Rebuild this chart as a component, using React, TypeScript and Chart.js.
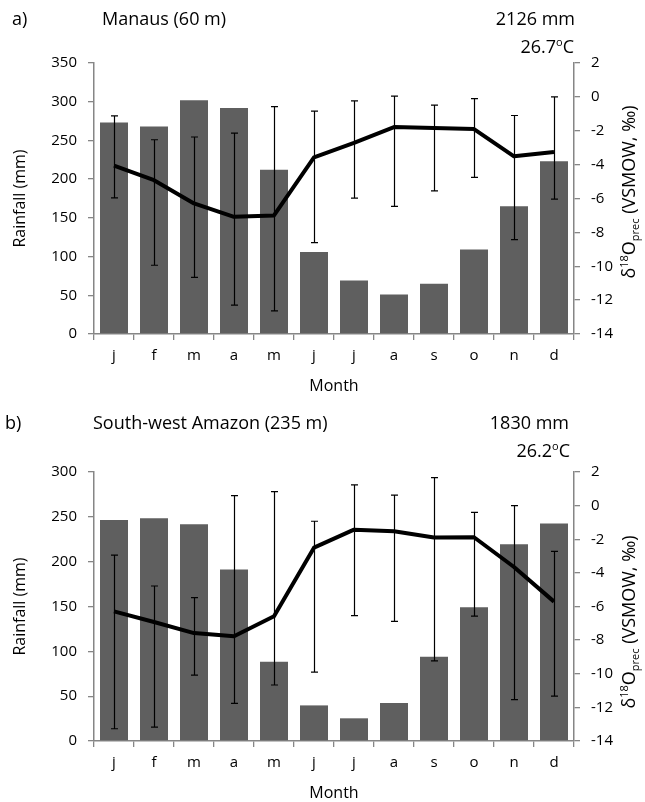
import React, { useEffect, useRef } from "react";
import { Chart, registerables } from "chart.js";

Chart.register(...registerables);

// ---------- data ----------
const months = ["j", "f", "m", "a", "m", "j", "j", "a", "s", "o", "n", "d"];

// a) Manaus
const manausRain = [273, 268, 302, 292, 212, 106, 69, 51, 65, 109, 165, 223];
const manausD18O = [-4.06, -4.92, -6.29, -7.08, -7.0, -3.57, -2.72, -1.78, -1.84, -1.9, -3.51, -3.25];
const manausUpper = [-1.12, -2.53, -2.37, -2.14, -0.57, -0.84, -0.24, 0.04, -0.49, -0.1, -1.1, 0.0];
const manausLower = [-5.96, -9.94, -10.66, -12.29, -12.63, -8.6, -5.98, -6.47, -5.55, -4.75, -8.43, -6.04];

// b) South-west Amazon
const swRain = [246.5, 248.4, 241.7, 191.2, 88.4, 39.7, 25.3, 42.3, 93.9, 149.3, 219.4, 242.5];
const swD18O = [-6.29, -6.92, -7.58, -7.77, -6.58, -2.5, -1.43, -1.53, -1.9, -1.88, -3.65, -5.71];
const swUpper = [-2.94, -4.78, -5.47, 0.6, 0.83, -0.93, 1.23, 0.63, 1.67, -0.4, 0.0, -2.72];
const swLower = [-13.27, -13.17, -10.08, -11.76, -10.67, -9.9, -6.54, -6.88, -9.24, -6.57, -11.54, -11.33];

// axis ranges
const manausRainAxis = [0, 350, 50];
const swRainAxis = [0, 300, 50];
const d18OAxis = [-14, 2, 2];

const FONT = "'Open Sans', sans-serif";

type PanelCfg = {
  top: number;
  height: number;
  plotTop: number;
  plotBottom: number;
  letter: string;
  letterX: number;
  title: string;
  titleX: number;
  titleY: number;
  total: string;
  totalRight: number;
  temp: string;
  tempRight: number;
  tempY: number;
  rightTitleCenter: number;
  rain: number[];
  d18o: number[];
  upper: number[];
  lower: number[];
  rainAxis: number[];
};

const panels: PanelCfg[] = [
  {
    top: 0, height: 400, plotTop: 63, plotBottom: 334,
    letter: "a)", letterX: 12, title: "Manaus (60 m)", titleX: 102, titleY: 20,
    total: "2126 mm", totalRight: 575, temp: "26.7", tempRight: 574, tempY: 47,
    rightTitleCenter: 192,
    rain: manausRain, d18o: manausD18O, upper: manausUpper, lower: manausLower,
    rainAxis: manausRainAxis,
  },
  {
    top: 400, height: 402, plotTop: 72, plotBottom: 341,
    letter: "b)", letterX: 5, title: "South-west Amazon (235 m)", titleX: 93, titleY: 24,
    total: "1830 mm", totalRight: 569, temp: "26.2", tempRight: 570, tempY: 51,
    rightTitleCenter: 222,
    rain: swRain, d18o: swD18O, upper: swUpper, lower: swLower,
    rainAxis: swRainAxis,
  },
];

function drawRuns(ctx: CanvasRenderingContext2D, runs: { t: string; size: number; dy: number }[], x: number, y: number, align: "left" | "right" | "center") {
  let total = 0;
  for (const r of runs) {
    ctx.font = `${r.size}px ${FONT}`;
    total += ctx.measureText(r.t).width;
  }
  let cx = align === "left" ? x : align === "right" ? x - total : x - total / 2;
  ctx.textAlign = "left";
  for (const r of runs) {
    ctx.font = `${r.size}px ${FONT}`;
    ctx.fillText(r.t, cx, y + r.dy);
    cx += ctx.measureText(r.t).width;
  }
}

function Panel({ cfg }: { cfg: PanelCfg }) {
  const ref = useRef<HTMLCanvasElement | null>(null);

  useEffect(() => {
    if (!ref.current) return;
    const axisGray = "#868686";

    const annot = {
      id: "annot",
      afterDatasetsDraw(chart: any) {
        const ctx = chart.ctx as CanvasRenderingContext2D;
        const xs = chart.scales.x;
        const ys = chart.scales.y1;
        ctx.save();
        ctx.strokeStyle = "#000";
        ctx.lineWidth = 1.2;
        for (let i = 0; i < months.length; i++) {
          const x = Math.round(xs.getPixelForValue(i)) + 0.5;
          const y1 = ys.getPixelForValue(cfg.upper[i]);
          const y2 = ys.getPixelForValue(cfg.lower[i]);
          ctx.beginPath();
          ctx.moveTo(x, y1);
          ctx.lineTo(x, y2);
          ctx.moveTo(x - 3.5, y1);
          ctx.lineTo(x + 3.5, y1);
          ctx.moveTo(x - 3.5, y2);
          ctx.lineTo(x + 3.5, y2);
          ctx.stroke();
        }
        ctx.restore();
      },
      afterDraw(chart: any) {
        const ctx = chart.ctx as CanvasRenderingContext2D;
        const area = chart.chartArea;
        ctx.save();
        ctx.fillStyle = "#000";
        ctx.textBaseline = "middle";
        ctx.textAlign = "left";
        ctx.font = `18px ${FONT}`;
        ctx.fillText(cfg.letter, cfg.letterX, cfg.titleY);
        ctx.fillText(cfg.title, cfg.titleX, cfg.titleY);
        ctx.textAlign = "right";
        ctx.fillText(cfg.total, cfg.totalRight, cfg.titleY);
        // temperature with superscript o
        ctx.textBaseline = "alphabetic";
        drawRuns(
          ctx,
          [
            { t: cfg.temp, size: 18, dy: 0 },
            { t: "o", size: 11, dy: -7 },
            { t: "C", size: 18, dy: 0 },
          ],
          cfg.tempRight,
          cfg.tempY + 6,
          "right"
        );
        // left axis title
        const cy = (area.top + area.bottom) / 2;
        ctx.save();
        ctx.translate(20, cy);
        ctx.rotate(-Math.PI / 2);
        ctx.textAlign = "center";
        ctx.textBaseline = "middle";
        ctx.font = `16px ${FONT}`;
        ctx.fillText("Rainfall (mm)", 0, 0);
        ctx.restore();
        // x axis title
        ctx.textAlign = "center";
        ctx.textBaseline = "middle";
        ctx.font = `16px ${FONT}`;
        ctx.fillText("Month", (area.left + area.right) / 2, area.bottom + 52);
        // right axis title
        ctx.save();
        ctx.translate(635, cfg.rightTitleCenter);
        ctx.rotate(-Math.PI / 2);
        ctx.textBaseline = "alphabetic";
        drawRuns(
          ctx,
          [
            { t: "δ", size: 18, dy: 0 },
            { t: "18", size: 11, dy: -7 },
            { t: "O", size: 18, dy: 0 },
            { t: "prec", size: 11, dy: 4 },
            { t: " (VSMOW, ‰)", size: 18, dy: 0 },
          ],
          0,
          0,
          "center"
        );
        ctx.restore();
        ctx.restore();
      },
    };

    const tickFont = { family: FONT, size: 15 };

    const chart = new Chart(ref.current, {
      type: "bar",
      data: {
        labels: months,
        datasets: [
          {
            type: "line",
            data: cfg.d18o,
            yAxisID: "y1",
            borderColor: "#000",
            borderWidth: 4,
            pointRadius: 0,
            tension: 0,
            borderJoinStyle: "round",
            order: 1,
          } as any,
          {
            type: "bar",
            data: cfg.rain,
            yAxisID: "y",
            backgroundColor: "#5f5f5f",
            barPercentage: 0.7,
            categoryPercentage: 1,
            order: 2,
          } as any,
        ],
      },
      options: {
        responsive: false,
        animation: false,
        devicePixelRatio: 1,
        layout: { padding: { top: cfg.plotTop, left: 0, right: 0, bottom: 0 } },
        plugins: { legend: { display: false }, tooltip: { enabled: false } },
        scales: {
          x: {
            offset: true,
            grid: { offset: true, drawOnChartArea: false, tickLength: 6, color: axisGray, lineWidth: 1.3 },
            border: { color: axisGray, width: 1.5 },
            ticks: { font: tickFont, color: "#000", padding: 7, maxRotation: 0 },
            afterFit: (s: any) => {
              s.height = cfg.height - cfg.plotBottom;
            },
          },
          y: {
            position: "left",
            min: cfg.rainAxis[0],
            max: cfg.rainAxis[1],
            ticks: { stepSize: cfg.rainAxis[2], font: tickFont, color: "#000", padding: 11 },
            grid: { drawOnChartArea: false, tickLength: 6, color: axisGray, lineWidth: 1.3 },
            border: { color: axisGray, width: 1.5 },
            afterFit: (s: any) => {
              s.width = 94;
            },
          },
          y1: {
            position: "right",
            min: d18OAxis[0],
            max: d18OAxis[1],
            ticks: { stepSize: d18OAxis[2], font: tickFont, color: "#000", padding: 11 },
            grid: { drawOnChartArea: false, tickLength: 6, color: axisGray, lineWidth: 1.3 },
            border: { color: axisGray, width: 1.5 },
            afterFit: (s: any) => {
              s.width = 645 - 574;
            },
          },
        },
      } as any,
      plugins: [annot],
    });
    return () => chart.destroy();
  }, [cfg]);

  return (
    <canvas
      ref={ref}
      width={645}
      height={cfg.height}
      style={{ position: "absolute", left: 0, top: cfg.top, width: 645, height: cfg.height, display: "block" }}
    />
  );
}

export default function App() {
  return (
    <div style={{ position: "absolute", left: 0, top: 0, width: 645, height: 802, background: "#fff" }}>
      {panels.map((p, i) => (
        <Panel key={i} cfg={p} />
      ))}
    </div>
  );
}
